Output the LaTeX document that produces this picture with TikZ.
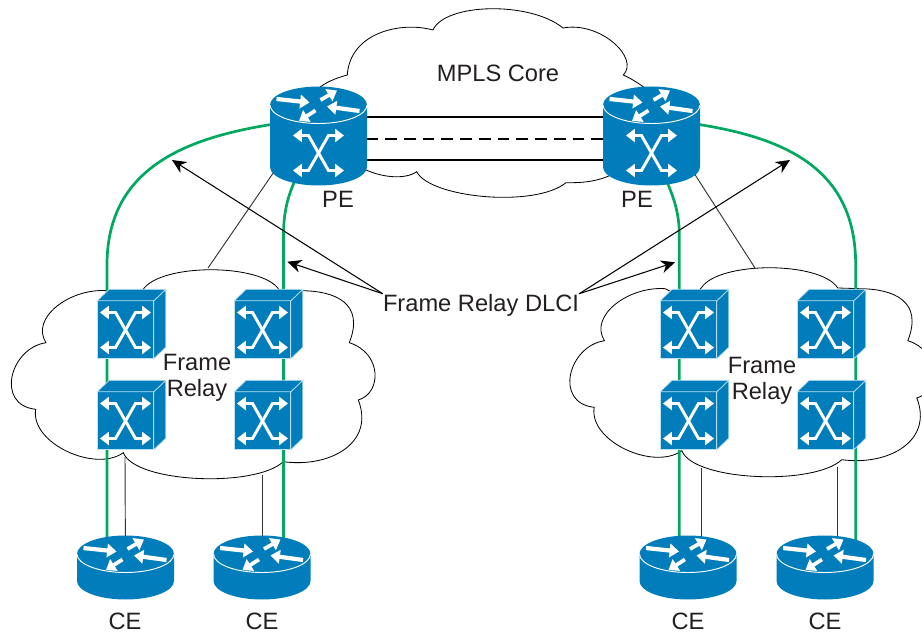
\documentclass[tikz,border=0pt]{standalone}
\usepackage{fontspec}
\setmainfont{Liberation Sans}
\usetikzlibrary{arrows.meta}
\definecolor{ciscoblue}{RGB}{0,125,186}
\definecolor{edgeblue}{RGB}{190,225,240}
\definecolor{dlcigreen}{RGB}{0,168,96}
\definecolor{inkgrey}{RGB}{35,31,32}
\begin{document}
\begin{tikzpicture}[
		x=0.3mm, y=0.3mm,
		label/.style={inner sep=0pt, text=inkgrey, font=\fontsize{20.2}{22}\selectfont, align=center},
		cloud/.style={line width=0.7pt, black},
		thinlink/.style={line width=0.8pt, black!80},
		dlci/.style={line width=2.3pt, dlcigreen},
		trunk/.style={line width=2.5pt, black},
		callout/.style={line width=0.9pt, -{Stealth[length=12pt, width=11pt]}},
		routerbox/.style={minimum width=82.7pt, minimum height=55.4pt, inner sep=0pt},
		pebox/.style={minimum width=82.7pt, minimum height=83.6pt, inner sep=0pt},
		switchbox/.style={minimum width=58.6pt, minimum height=59.2pt, inner sep=0pt},
		flowline/.style={white, line width=3.6pt, -{Triangle[length=8pt, width=11.5pt]}},
		crossline/.style={white, line width=2.5pt, {Triangle[length=7.5pt, width=11pt]}-{Triangle[length=7.5pt, width=11pt]}},
		pics/drum/.style={code={
			\fill[ciscoblue] (-48.5,#1) -- (-48.5,-#1) arc[start angle=180, end angle=360, x radius=48.5, y radius=18.5]
				-- (48.5,#1) arc[start angle=0, end angle=180, x radius=48.5, y radius=18.5] -- cycle;
			\draw[white, line width=0.8pt] (-48.5,#1) arc[start angle=180, end angle=360, x radius=48.5, y radius=18.5];
			\begin{scope}[yshift=#1*0.3mm]
				\foreach \tailx/\taily/\tipx/\tipy in {-42/6/-9/2.5, 41/-6/8.5/-1.5}
					\draw[flowline] (\tailx,\taily) -- (\tipx,\tipy);
				\foreach \tailx/\taily/\tipx/\tipy in {2/5/18.5/14.5, -3/-5.5/-19.5/-16}
					\draw[flowline, line width=3.2pt] (\tailx,\taily) -- (\tipx,\tipy);
			\end{scope}
		}},
		pics/crossing/.style={code={
			\draw[crossline] (-25.5,17.5) -- (-10,17.5) -- (10,-17.5) -- (25.5,-17.5);
			\draw[crossline] (-25.5,-17.5) -- (-10,-17.5) -- (10,17.5) -- (25.5,17.5);
		}},
		pics/cube/.style={code={
			\filldraw[ciscoblue, draw=edgeblue, line width=0.6pt] (-34.3,-34.7) rectangle (22.3,23.2);
			\filldraw[ciscoblue, draw=edgeblue, line width=0.6pt] (22.3,23.2) -- (34.3,34.7) -- (34.3,-23.2) -- (22.3,-34.7) -- cycle;
			\filldraw[ciscoblue, draw=edgeblue, line width=0.6pt] (-34.3,23.2) -- (-22.3,34.7) -- (34.3,34.7) -- (22.3,23.2) -- cycle;
			\pic at (-6,-6) {crossing};
		}},
		pics/frcloud/.style={code={
			\draw[cloud] (106.7,342.3) .. controls (70,345) and (30,315) .. (46,290.3)
				.. controls (10,285) and (-5,228) .. (35.7,223.7)
				.. controls (30,190) and (95,160) .. (123.3,180.3)
				.. controls (135,150) and (255,145) .. (283.3,171.3)
				.. controls (330,165) and (375,190) .. (358.3,233)
				.. controls (382,240) and (382,280) .. (349.3,290.3)
				.. controls (365,330) and (335,342) .. (301.7,342.3)
				-- (279.3,343) .. controls (262,370) and (160,370) .. (142.7,343)
				-- (130,330) -- cycle;
		}},
	]
	\useasboundingbox (0,0) rectangle (922,633);

	% devices
	\node[pebox] (pe1) at (318.5,497) {};
	\node[pebox] (pe2) at (651.5,497) {};
	\node[switchbox] (sw1) at (131.5,309) {};
	\node[switchbox] (sw2) at (268.5,309) {};
	\node[switchbox] (sw3) at (131.5,218) {};
	\node[switchbox] (sw4) at (268.5,218) {};
	\node[switchbox] (sw5) at (694.5,309) {};
	\node[switchbox] (sw6) at (831.5,309) {};
	\node[switchbox] (sw7) at (694.5,218) {};
	\node[switchbox] (sw8) at (831.5,218) {};
	\node[routerbox] (ce1) at (125.5,65.5) {};
	\node[routerbox] (ce2) at (262,65.5) {};
	\node[routerbox] (ce3) at (688,65.5) {};
	\node[routerbox] (ce4) at (825,65.5) {};

	% labels
	\node[label] (core) at (498,560) {MPLS Core};
	\node[label] (pelbl1) at (338,434) {PE};
	\node[label] (pelbl2) at (637,434) {PE};
	\node[label] (fr1) at (197,255) {Frame\\Relay};
	\node[label] (fr2) at (762,252.5) {Frame\\Relay};
	\node[label] (dlcilbl) at (481,328) {Frame Relay DLCI};
	\node[label] (celbl1) at (125,12) {CE};
	\node[label] (celbl2) at (262,12) {CE};
	\node[label] (celbl3) at (688,12) {CE};
	\node[label] (celbl4) at (825,12) {CE};

	% clouds
	\draw[cloud] (320,546) .. controls (330,553) and (340,556) .. (347.3,558)
		.. controls (350,600) and (400,612) .. (433,603)
		.. controls (445,630) and (530,632) .. (563,605)
		.. controls (600,612) and (640,575) .. (623.3,558)
		.. controls (632,554) and (638,550) .. (645,545);
	\draw[cloud] (360,466) .. controls (380,455) and (405,453) .. (416.7,461.3)
		.. controls (430,435) and (535,425) .. (566,450.3)
		.. controls (585,450) and (600,452) .. (615,460);
	\pic at (0,0) {frcloud};
	\pic at (558.5,2) {frcloud};

	\coordinate (frtop1) at (208,365);
	\coordinate (frtop2) at (755,365);
	\coordinate (frbot1) at (125,176);
	\coordinate (frbot2) at (262,158);
	\coordinate (frbot3) at (701,165);
	\coordinate (frbot4) at (837.7,166);
	\draw[thinlink] ([shift={(0,29)}]pe1.center) -- (frtop1);
	\draw[thinlink] ([shift={(0,29)}]pe2.center) -- (frtop2);
	\draw[thinlink] (ce1.center) -- (frbot1);
	\draw[thinlink] (ce2.center) -- (frbot2);
	\draw[thinlink] ([shift={(13,0)}]ce3.center) -- (frbot3);
	\draw[thinlink] ([shift={(12.7,0)}]ce4.center) -- (frbot4);

	% virtual circuits
	\draw[dlci] ([shift={(-18.5,0)}]ce1.center) -- ++(0,302.5) .. controls +(0,100) and +(-98,-13) .. ([shift={(-30,14)}]pe1.center);
	\draw[dlci] ([shift={(21.5,0)}]ce2.center) -- ++(0,332.5) .. controls +(0,30) and +(-11,-23) .. ([shift={(-16.5,-29)}]pe1.center);
	\draw[dlci] ([shift={(-8.7,0)}]ce3.center) -- ++(0,332.5) .. controls +(0,30) and +(9,-23) .. ([shift={(8.5,-29)}]pe2.center);
	\draw[dlci] ([shift={(30.7,0)}]ce4.center) -- ++(0,302.5) .. controls +(0,100) and +(99,-13) .. ([shift={(30,14)}]pe2.center);

	\draw[trunk] ([shift={(0,19)}]pe1.center) -- ([shift={(0,19)}]pe2.center);
	\draw[trunk, dash pattern=on 10pt off 6pt] ([shift={(48,-3)}]pe1.center) -- ([shift={(-48,-3)}]pe2.center);
	\draw[trunk] ([shift={(0,-24)}]pe1.center) -- ([shift={(0,-24)}]pe2.center);

	\coordinate (tip1) at (172,473);
	\coordinate (tip2) at (287.3,371.3);
	\coordinate (tip3) at (675,370.7);
	\coordinate (tip4) at (790,473);
	\draw[callout] (dlcilbl.north west) -- (tip1);
	\draw[callout] (dlcilbl.north west) -- (tip2);
	\draw[callout] (dlcilbl.north east) -- (tip3);
	\draw[callout] (dlcilbl.north east) -- (tip4);

	% icons
	\pic at (pe1) {drum=31};
	\pic at (pe2) {drum=31};
	\pic at ([shift={(0,-17)}]pe1.center) {crossing};
	\pic at ([shift={(0,-17)}]pe2.center) {crossing};
	\foreach \sw in {sw1,sw2,sw3,sw4,sw5,sw6,sw7,sw8}
		\pic at (\sw) {cube};
	\foreach \ce in {ce1,ce2,ce3,ce4}
		\pic at (\ce) {drum=13.5};
\end{tikzpicture}
\end{document}
